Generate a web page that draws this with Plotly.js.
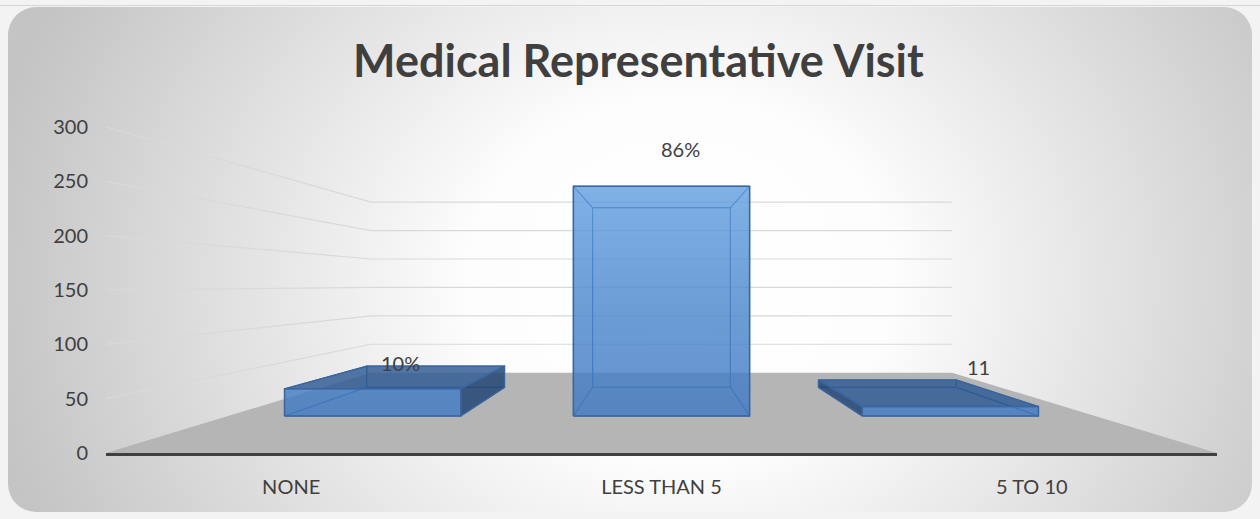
<!DOCTYPE html>
<html><head><meta charset="utf-8">
<script src="https://cdn.plot.ly/plotly-3.0.1.min.js"></script>
<style>
html,body{margin:0;padding:0;background:#f3f3f3;}
#wrap{position:relative;width:1260px;height:519px;overflow:hidden;}
#topline{position:absolute;left:0;top:5px;width:1260px;height:1px;background:#d6d6d6;}
#card{position:absolute;left:8px;top:7px;width:1244px;height:505px;border-radius:28px;
background:radial-gradient(ellipse 700px 600px at 672px 273px,#ffffff 0%,#fdfdfd 30%,#c4c4c4 100%);}
#chart{position:absolute;left:0;top:0;width:1260px;height:519px;}
</style></head>
<body><div id="wrap"><div id="topline"></div><div id="card"></div><div id="chart"></div></div>
<script>
// ---- data ----
const categories = ['NONE', 'LESS THAN 5', '5 TO 10'];
const visits = [32, 271, 11];
const dataLabels = ['10%', '86%', '11'];
const yTicks = [0, 50, 100, 150, 200, 250, 300];

// ---- 3D look (style / geometry settings) ----
const VP = {x: 1.5, y: 155};      // vanishing point in data units
const wallDepth = 0.523;          // scale of the back wall
const barFront = 0.78, barBack = 0.61, barWidth = 0.61;
const labelOffsets = [[28, 26], [19, 37], [28, 40]];
const txt = '#404040';

function P(x, y, s) { return [VP.x + (x - VP.x) * s, VP.y + (y - VP.y) * s]; }
function polyTrace(pts, fill, line, lw) {
  const xs = pts.map(p => p[0]), ys = pts.map(p => p[1]);
  xs.push(xs[0]); ys.push(ys[0]);
  return {type: 'scatter', mode: 'lines', x: xs, y: ys, fill: 'toself', fillcolor: fill,
    line: {color: line, width: lw}, hoverinfo: 'skip', showlegend: false};
}

const nCat = categories.length;
const traces = [];
// floor
traces.push(polyTrace([P(0, 0, 1), P(nCat, 0, 1), P(nCat, 0, wallDepth), P(0, 0, wallDepth)],
  '#b5b5b5', 'rgba(0,0,0,0)', 0));
// gridlines (left wall + back wall)
const gx = [], gy = [];
yTicks.filter(v => v > 0).forEach(v => {
  [P(0, v, 1), P(0, v, wallDepth), P(nCat, v, wallDepth)].forEach(p => { gx.push(p[0]); gy.push(p[1]); });
  gx.push(null); gy.push(null);
});
traces.push({type: 'scatter', mode: 'lines', x: gx, y: gy, line: {color: '#d9d9d9', width: 1.2},
  hoverinfo: 'skip', showlegend: false});

// bars
const edge = '#3a659f';
const annotations = [];
visits.forEach((v, i) => {
  const x0 = i + 0.5 - barWidth / 2, x1 = i + 0.5 + barWidth / 2;
  const f00 = P(x0, 0, barFront), f10 = P(x1, 0, barFront), f11 = P(x1, v, barFront), f01 = P(x0, v, barFront);
  const b00 = P(x0, 0, barBack), b10 = P(x1, 0, barBack), b11 = P(x1, v, barBack), b01 = P(x0, v, barBack);
  const faces = [
    {pts: [b00, b10, b11, b01], vis: false, kind: 'back'},
    {pts: [f00, f10, b10, b00], vis: VP.y < 0, kind: 'top'},
    {pts: [f00, b00, b01, f01], vis: VP.x < x0, kind: 'side'},
    {pts: [f10, b10, b11, f11], vis: VP.x > x1, kind: 'side'},
    {pts: [f01, f11, b11, b01], vis: VP.y > v, kind: 'top'}
  ];
  faces.filter(f => !f.vis).forEach(f => traces.push(polyTrace(f.pts, 'rgba(68,125,197,0.06)', 'rgba(58,101,159,0.9)', 1.1)));
  faces.filter(f => f.vis).forEach(f => traces.push(polyTrace(f.pts,
    f.kind === 'top' ? 'rgba(47,90,146,0.82)' : 'rgba(36,70,118,0.85)', edge, 1.4)));
  const front = polyTrace([f00, f10, f11, f01], 'rgba(68,125,197,0.8)', edge, 1.5);
  front.fillgradient = {type: 'vertical', start: P(0, 0, barFront)[1], stop: P(0, 300, barFront)[1],
    colorscale: [[0, 'rgba(66,122,194,0.82)'], [0.5, 'rgba(78,138,206,0.8)'], [1, 'rgba(104,166,232,0.8)']]};
  traces.push(front);
  const lp = P(i + 0.5, v, barFront);
  annotations.push({x: lp[0], y: lp[1], xref: 'x', yref: 'y', text: dataLabels[i], showarrow: false,
    xanchor: 'center', yanchor: 'middle', xshift: labelOffsets[i][0], yshift: labelOffsets[i][1],
    font: {family: 'Lato', size: 20, color: txt}});
});

const layout = {
  width: 1260, height: 519,
  margin: {l: 106, r: 43, t: 127, b: 66},
  paper_bgcolor: 'rgba(0,0,0,0)', plot_bgcolor: 'rgba(0,0,0,0)',
  showlegend: false, hovermode: false,
  title: {text: 'Medical Representative Visit', font: {family: 'Lato', size: 45, weight: 700, color: '#3f3f3f'},
    xref: 'container', yref: 'container', x: 0.5067, xanchor: 'center', y: 0.882, yanchor: 'middle'},
  xaxis: {range: [0, nCat], tickvals: categories.map((c, i) => i + 0.5), ticktext: categories,
    showgrid: false, zeroline: false, showline: true, linecolor: '#404040', linewidth: 3, ticks: '',
    tickfont: {family: 'Lato', size: 20, color: txt}, ticklabelstandoff: 14, fixedrange: true},
  yaxis: {range: [0, 300], tickvals: yTicks, showgrid: false, zeroline: false, showline: false, ticks: '',
    tickfont: {family: 'Lato', size: 20, color: txt}, ticklabelstandoff: 17, fixedrange: true},
  annotations: annotations
};
Plotly.newPlot('chart', traces, layout, {displayModeBar: false, staticPlot: true});
</script></body></html>
